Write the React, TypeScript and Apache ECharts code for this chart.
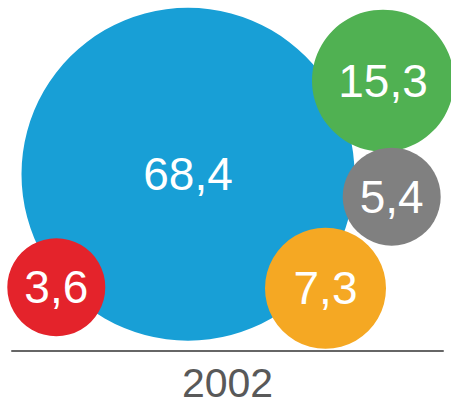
import React, { useEffect, useRef } from "react";
import * as echarts from "echarts";

// ---- data ----
const categories = ["2002"];
const values = [68.4, 3.6, 15.3, 5.4, 7.3];
// bubble centres in data units of the value axes (packed layout)
const bubbleX = [176, 44.3, 371, 379.7, 313.5];
const bubbleY = [177, 63.5, 271, 154.5, 62.5];

// ---- styles ----
const colors = ["#189FD6", "#E4232B", "#50B152", "#808080", "#F5A823"];
const diameters = [333, 98, 142, 98, 121];

export default function App() {
  const ref = useRef<HTMLDivElement>(null);
  useEffect(() => {
    if (!ref.current) return;
    const chart = echarts.init(ref.current, undefined, { renderer: "svg" });
    const data = values.map((v, i) => ({
      value: [bubbleX[i], bubbleY[i], v],
      symbolSize: diameters[i],
      itemStyle: { color: colors[i], opacity: 1 },
    }));
    chart.setOption({
      animation: false,
      grid: { left: 12, right: 8, top: 0, bottom: 51 },
      xAxis: [
        {
          type: "category",
          data: categories,
          position: "bottom",
          axisLine: { show: true, lineStyle: { color: "#666666", width: 2 } },
          axisTick: { show: false },
          splitLine: { show: false },
          axisLabel: {
            fontSize: 41,
            lineHeight: 30,
            color: "#595959",
            margin: 17,
            fontFamily: "Liberation Sans, Arial, sans-serif",
          },
        },
        { type: "value", min: 0, max: 431, show: false },
      ],
      yAxis: { type: "value", min: 0, max: 352, show: false },
      series: [
        {
          type: "scatter",
          xAxisIndex: 1,
          yAxisIndex: 0,
          clip: false,
          symbol: "circle",
          data,
          label: {
            show: true,
            position: "inside",
            color: "#ffffff",
            fontSize: 46,
            fontFamily: "Liberation Sans, Arial, sans-serif",
            formatter: (p: any) => String(p.value[2]).replace(".", ","),
          },
          emphasis: { disabled: true },
        },
      ],
    });
    return () => chart.dispose();
  }, []);
  return (
    <div
      ref={ref}
      style={{ position: "absolute", left: 0, top: 0, width: 451, height: 403 }}
    />
  );
}
